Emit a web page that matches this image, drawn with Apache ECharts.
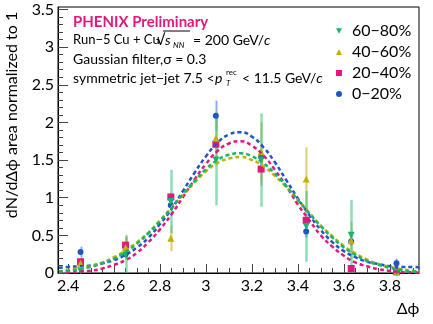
<!DOCTYPE html>
<html>
<head>
<meta charset="utf-8">
<script src="https://cdn.jsdelivr.net/npm/echarts@6/dist/echarts.min.js"></script>
<style>
  html, body { margin: 0; padding: 0; background: #fff; }
  #chart { width: 433px; height: 324px; }
</style>
</head>
<body>
<div id="chart"></div>
<script>
// bin centres in delta phi (pi/16 bins)
const binX = [2.454, 2.650, 2.847, 3.043, 3.240, 3.436, 3.632, 3.829]

// 0-20%
const val0020 = [0.28, 0.25, 0.90, 2.09, 1.54, 0.55, 0.42, 0.13]
const err0020 = [0.07, 0.05, 0.06, 0.20, 0.08, 0.08, 0.06, 0.06]
// 20-40%
const val2040 = [0.15, 0.37, 1.01, 1.71, 1.38, 0.70, 0.06, 0.02]
const err2040 = [0.05, 0.10, 0.05, 0.08, 0.22, 0.06, 0.04, 0.02]
// 40-60%
const val4060 = [0.13, 0.34, 0.46, 1.79, 1.61, 1.25, 0.43, 0.01]
const err4060 = [0.08, 0.17, 0.17, 0.36, 0.39, 0.42, 0.25, 0.02]
// 60-80%
const val6080 = [0.03, 0.24, 0.95, 1.50, 1.50, 0.62, 0.50, 0.01]
const err6080 = [0.03, 0.25, 0.42, 0.60, 0.62, 0.47, 0.47, 0.02]

// gaussian fit curves
const fitX = [2.36, 2.40, 2.45, 2.50, 2.55, 2.60, 2.65, 2.70, 2.75, 2.80, 2.85, 2.90, 2.95, 3.00, 3.05, 3.10, 3.15,
  3.20, 3.25, 3.30, 3.35, 3.40, 3.45, 3.50, 3.55, 3.60, 3.65, 3.70, 3.75, 3.80, 3.85, 3.90, 3.93]
const fit0020 = [0.07, 0.08, 0.09, 0.10, 0.13, 0.17, 0.24, 0.34, 0.47, 0.65, 0.85, 1.09, 1.33, 1.55, 1.73, 1.84, 1.87,
  1.81, 1.67, 1.47, 1.23, 0.99, 0.77, 0.57, 0.41, 0.29, 0.21, 0.15, 0.12, 0.09, 0.08, 0.08, 0.07]
const fit2040 = [0.01, 0.01, 0.02, 0.03, 0.06, 0.11, 0.17, 0.27, 0.41, 0.58, 0.78, 1.01, 1.24, 1.45, 1.62, 1.72, 1.75,
  1.69, 1.56, 1.37, 1.15, 0.91, 0.70, 0.50, 0.35, 0.23, 0.14, 0.09, 0.05, 0.03, 0.01, 0.01, 0.00]
const fit4060 = [0.02, 0.04, 0.06, 0.09, 0.14, 0.21, 0.30, 0.41, 0.54, 0.70, 0.87, 1.04, 1.20, 1.35, 1.46, 1.52, 1.54,
  1.50, 1.42, 1.29, 1.14, 0.97, 0.80, 0.63, 0.49, 0.36, 0.26, 0.18, 0.12, 0.08, 0.05, 0.03, 0.02]
const fit6080 = [0.02, 0.03, 0.05, 0.08, 0.13, 0.19, 0.28, 0.39, 0.53, 0.69, 0.86, 1.05, 1.22, 1.38, 1.50, 1.57, 1.59,
  1.55, 1.46, 1.32, 1.15, 0.97, 0.79, 0.62, 0.47, 0.34, 0.24, 0.16, 0.11, 0.07, 0.04, 0.02, 0.02]

// axis ticks
const xMajor = [2.4, 2.6, 2.8, 3.0, 3.2, 3.4, 3.6, 3.8]
const xMinor = [2.45, 2.5, 2.55, 2.65, 2.7, 2.75, 2.85, 2.9, 2.95, 3.05, 3.1, 3.15, 3.25, 3.3, 3.35,
  3.45, 3.5, 3.55, 3.65, 3.7, 3.75, 3.85, 3.9]
const yMajor = [0, 0.5, 1, 1.5, 2, 2.5, 3, 3.5]
const yMinor = [0.1, 0.2, 0.3, 0.4, 0.6, 0.7, 0.8, 0.9, 1.1, 1.2, 1.3, 1.4, 1.6, 1.7, 1.8, 1.9,
  2.1, 2.2, 2.3, 2.4, 2.6, 2.7, 2.8, 2.9, 3.1, 3.2, 3.3, 3.4]

const FONT = 'Lato'

const groups = [
  { name: '0−20%', val: val0020, err: err0020, fit: fit0020, color: '#1c57c4', errColor: 'rgba(60,120,220,0.6)',
    symbol: 'circle', size: 6 },
  { name: '20−40%', val: val2040, err: err2040, fit: fit2040, color: '#e2187f', errColor: 'rgba(230,60,150,0.5)',
    symbol: 'rect', size: 7 },
  { name: '40−60%', val: val4060, err: err4060, fit: fit4060, color: '#c3b100', errColor: 'rgba(200,180,40,0.65)',
    symbol: 'triangle', size: 7 },
  { name: '60−80%', val: val6080, err: err6080, fit: fit6080, color: '#16b56e', errColor: 'rgba(60,200,130,0.6)',
    symbol: 'path://M0,0 L10,0 L5,9 Z', size: 7 }
]

const errRenderer = (color, width) => (params, api) => {
  const x = api.value(0)
  const p1 = api.coord([x, api.value(1)])
  const p2 = api.coord([x, api.value(2)])
  return {
    type: 'line',
    shape: { x1: Math.round(p1[0]) + 0.5, y1: p1[1], x2: Math.round(p2[0]) + 0.5, y2: p2[1] },
    style: { stroke: color, lineWidth: width }
  }
}

const series = []
groups.forEach((g, gi) => {
  series.push({
    name: g.name + ' err',
    type: 'custom',
    renderItem: errRenderer(g.errColor, gi === 3 ? 2.5 : 2),
    encode: { x: 0, y: [1, 2] },
    data: binX.map((x, i) => [x, Math.max(0, g.val[i] - g.err[i]), g.val[i] + g.err[i]]),
    z: 2 + gi,
    silent: true
  })
})
groups.forEach((g, gi) => {
  series.push({
    name: g.name,
    type: 'scatter',
    symbol: g.symbol,
    symbolSize: g.size,
    itemStyle: { color: g.color, opacity: 1 },
    data: binX.map((x, i) => [x, g.val[i]]),
    z: 10 + gi
  })
})
groups.forEach((g, gi) => {
  series.push({
    name: g.name + ' fit',
    type: 'line',
    smooth: true,
    showSymbol: false,
    lineStyle: { color: g.color, width: 2.5, type: [4, 3] },
    data: fitX.map((x, i) => [x, g.fit[i]]),
    z: 20 + gi,
    silent: true
  })
})

const chart = echarts.init(document.getElementById('chart'))

const txt = (x, y, text, extra, rotation) => ({
  type: 'text', x: x, y: y, silent: true, rotation: rotation || 0,
  style: Object.assign({
    text: text, fill: '#000', fontFamily: FONT, fontSize: 14, textVerticalAlign: 'middle'
  }, extra || {})
})
const italicRich = { i: { fontStyle: 'italic', fontFamily: FONT, fontSize: 14, fill: '#000' } }

chart.setOption({
  animation: false,
  grid: { left: 58, right: 14, top: 7, bottom: 51, show: true, borderColor: '#000', borderWidth: 1 },
  legend: {
    orient: 'vertical',
    left: 331,
    top: 18,
    itemWidth: 6,
    itemHeight: 6,
    itemGap: 5,
    data: ['60−80%', '40−60%', '20−40%', '0−20%'],
    textStyle: { fontFamily: FONT, fontSize: 16, color: '#000', padding: [0, 0, 0, 5] }
  },
  xAxis: [
    {
      type: 'value', min: 2.356, max: 3.927,
      axisLine: { show: true, lineStyle: { color: '#000' } },
      axisTick: { inside: true, length: 9, customValues: xMajor, lineStyle: { color: '#444' } },
      axisLabel: { customValues: xMajor, fontFamily: FONT, fontSize: 16, color: '#000', margin: 5 },
      splitLine: { show: false }
    },
    {
      type: 'value', min: 2.356, max: 3.927, position: 'bottom',
      axisLine: { show: false },
      axisTick: { inside: true, length: 5, customValues: xMinor, lineStyle: { color: '#444' } },
      axisLabel: { show: false },
      splitLine: { show: false }
    }
  ],
  yAxis: [
    {
      type: 'value', min: 0, max: 3.533,
      axisLine: { show: true, lineStyle: { color: '#000' } },
      axisTick: { inside: true, length: 10, customValues: yMajor, lineStyle: { color: '#444' } },
      axisLabel: { customValues: yMajor, fontFamily: FONT, fontSize: 16, color: '#000', margin: 4 },
      splitLine: { show: false }
    },
    {
      type: 'value', min: 0, max: 3.533, position: 'left',
      axisLine: { show: false },
      axisTick: { inside: true, length: 5, customValues: yMinor, lineStyle: { color: '#444' } },
      axisLabel: { show: false },
      splitLine: { show: false }
    }
  ],
  graphic: [
    txt(73, 22, 'PHENIX Preliminary', { fontWeight: 'bold', fontSize: 15, fill: '#e0197d' }),
    txt(73, 40, 'Run−5 Cu + Cu', { fontSize: 13 }),
    txt(156, 40, '√', { fontSize: 15 }),
    { type: 'line', silent: true, shape: { x1: 163, y1: 31, x2: 190, y2: 31 }, style: { stroke: '#000', lineWidth: 1 } },
    txt(165, 40, 's', { fontStyle: 'italic' }),
    txt(173, 45, 'NN', { fontStyle: 'italic', fontSize: 8 }),
    txt(193, 40, '= 200 GeV/{i|c}', { rich: italicRich }),
    txt(73, 59, 'Gaussian filter,σ = 0.3', { letterSpacing: 0.4 }),
    txt(73, 78, 'symmetric jet−jet 7.5 <'),
    txt(215, 78, 'p', { fontStyle: 'italic' }),
    txt(226, 72, 'rec', { fontSize: 8 }),
    txt(226, 83, 'T', { fontStyle: 'italic', fontSize: 8 }),
    txt(242, 78, '< 11.5 GeV/{i|c}', { rich: italicRich }),
    txt(12, 115, 'dN/dΔϕ area normalized to 1', { fontSize: 16, textAlign: 'center' }, Math.PI / 2),
    txt(408, 309, 'Δϕ', { fontSize: 16, textAlign: 'center' })
  ],
  series: series
})
</script>
</body>
</html>
